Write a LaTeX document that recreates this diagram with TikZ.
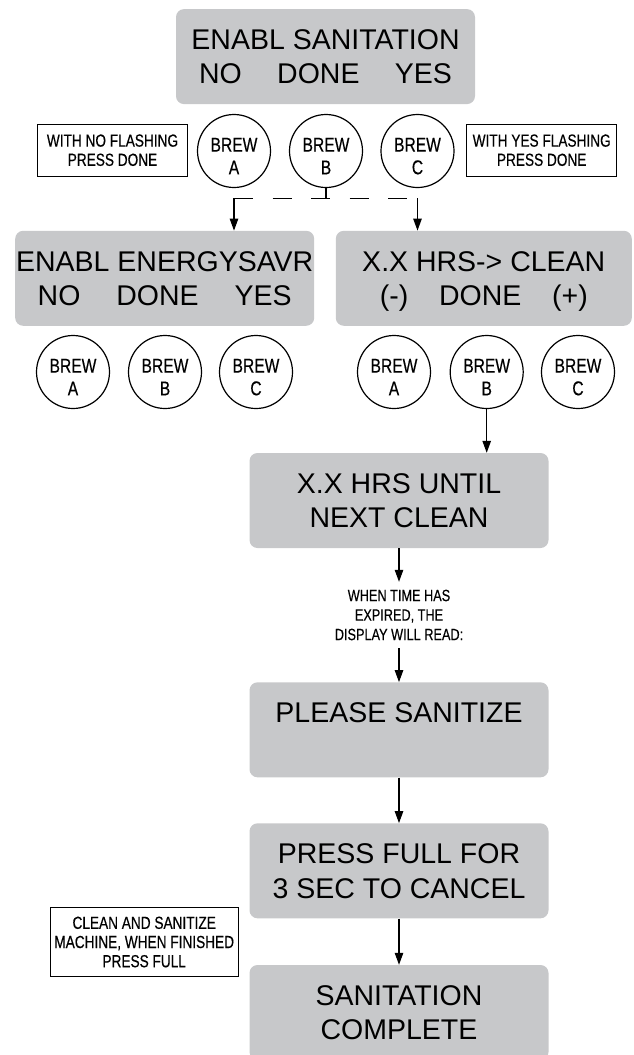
\documentclass[tikz,border=0pt]{standalone}
\usepackage{fontspec}
\setmainfont{Liberation Sans}
\newfontfamily\narrowfont[FakeStretch=0.78,FakeBold=0.4]{Liberation Sans}
\usepackage{xcolor}
\usepackage{tikz}
\usetikzlibrary{arrows.meta,positioning,calc}
\definecolor{lcdgray}{RGB}{199,200,202}
\newcommand\brewkey[1]{\rule{0pt}{24pt}BREW\\#1}

\begin{document}
\begin{tikzpicture}[
    x=1pt,y=-1pt,
    >={Triangle[length=12pt,width=8.5pt]},
    lcd/.style={fill=lcdgray,rounded corners=8pt,align=center,inner sep=0pt,text depth=0pt,minimum width=299pt,minimum height=95pt,font=\fontsize{28.5}{34.5}\selectfont},
    btn/.style={draw,circle,line width=1.2pt,minimum size=73pt,inner sep=0pt,align=center,font=\narrowfont\fontsize{20}{22.7}\selectfont},
    note/.style={draw,line width=1.1pt,align=center,inner sep=0pt,font=\narrowfont\fontsize{17.5}{19.2}\selectfont},
    flow/.style={->,line width=1.1pt}
]
\useasboundingbox (0,0) rectangle (633,1055);

\node[lcd] (sanit) at (325.5,56.6) {ENABL SANITATION\\\makebox[253pt]{NO\hfill DONE\hfill YES}};
\node[note,minimum width=150pt,minimum height=52pt] (noflash) at (112.5,150.2) {WITH NO FLASHING\\PRESS DONE};
\node[note,minimum width=150pt,minimum height=52pt] (yesflash) at (541.7,150.2) {WITH YES FLASHING\\PRESS DONE};
\node[btn] (sa) at (234,151) {\brewkey{A}};
\node[btn] (sb) at (326,151) {\brewkey{B}};
\node[btn] (sc) at (417.5,151) {\brewkey{C}};

\node[lcd] (energy) at (164.7,278.3) {ENABL ENERGYSAVR\\\makebox[254pt]{NO\hfill DONE\hfill YES}};
\node[lcd,minimum width=296pt] (hours) at (483.8,278.3) {X.X HRS-> CLEAN\\\makebox[208pt]{(-)\hfill DONE\hfill (+)}};
\node[btn] (ea) at (73,372) {\brewkey{A}};
\node[btn] (eb) at (165,372) {\brewkey{B}};
\node[btn] (ec) at (256,372) {\brewkey{C}};
\node[btn] (ha) at (394,372) {\brewkey{A}};
\node[btn] (hb) at (486.7,372) {\brewkey{B}};
\node[btn] (hc) at (578,372) {\brewkey{C}};

\node[lcd] (until) at (399,500.5) {X.X HRS UNTIL\\NEXT CLEAN};
\node[font=\narrowfont\fontsize{16.3}{19.5}\selectfont,align=center,inner sep=0pt,minimum height=66pt] (expired) at (399,615) {WHEN TIME HAS\\EXPIRED, THE\\DISPLAY WILL READ:};
\node[lcd] (please) at (399,729.8) {PLEASE SANITIZE\\\mbox{}};
\node[lcd] (cancel) at (399,870.8) {PRESS FULL FOR\\3 SEC TO CANCEL};
\node[lcd] (complete) at (399,1012.5) {SANITATION\\COMPLETE};
\node[note,minimum width=188pt,minimum height=69pt] (finished) at (144.2,942) {CLEAN AND SANITIZE\\MACHINE, WHEN FINISHED\\PRESS FULL};

% BREW B picks the next screen
\coordinate (fork) at (326,198.3);
\draw[line width=1.1pt] (sb.south) -- (fork);
\draw[line width=1.1pt,dash pattern=on 19pt off 19.5pt] (sa |- fork) -- (sc |- fork);
\draw[flow] (sa |- fork) -- (sa |- energy.north);
\draw[flow] (sc |- fork) -- (sc |- hours.north);

\draw[flow] (hb.south) -- (hb |- until.north);
\draw[flow] (until) -- (expired);
\draw[flow] (expired) -- (please);
\draw[flow] (please) -- (cancel);
\draw[flow] (cancel) -- (complete);
\end{tikzpicture}
\end{document}
